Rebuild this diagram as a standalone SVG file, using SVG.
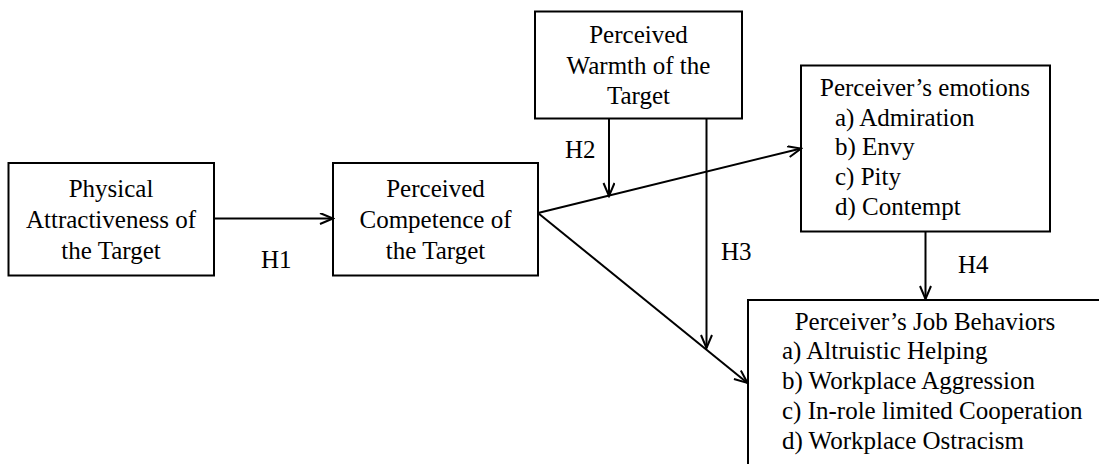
<svg xmlns="http://www.w3.org/2000/svg" width="1099" height="464" viewBox="0 0 1099 464">
  <style>
    .box { fill: #ffffff; stroke: #000000; stroke-width: 2; }
    .link { fill: none; stroke: #000000; stroke-width: 2; }
    text { font-family: "Liberation Serif", "Times New Roman", serif; font-size: 25px; fill: #000000; }
    .c { text-anchor: middle; }
  </style>
  <defs>
    <marker id="arrow" markerUnits="userSpaceOnUse" markerWidth="16" markerHeight="14" refX="14" refY="6" orient="auto">
      <path d="M1,0.5 L14,6 L1,11.5" fill="none" stroke="#000000" stroke-width="2"/>
    </marker>
  </defs>
  <rect width="1099" height="464" fill="#ffffff"/>

  <g id="physical-attractiveness">
    <rect class="box" x="8.5" y="163" width="205.5" height="112.5"/>
    <text class="c" x="111" y="197">Physical</text>
    <text class="c" x="111" y="228">Attractiveness of</text>
    <text class="c" x="111" y="259">the Target</text>
  </g>

  <g id="perceived-competence">
    <rect class="box" x="333" y="163" width="205" height="112.5"/>
    <text class="c" x="435.5" y="197">Perceived</text>
    <text class="c" x="435.5" y="228">Competence of</text>
    <text class="c" x="435.5" y="259">the Target</text>
  </g>

  <g id="perceived-warmth">
    <rect class="box" x="535" y="11.5" width="207" height="107"/>
    <text class="c" x="638.5" y="43">Perceived</text>
    <text class="c" x="638.5" y="74">Warmth of the</text>
    <text class="c" x="638.5" y="104">Target</text>
  </g>

  <g id="perceiver-emotions">
    <rect class="box" x="801" y="65.5" width="249" height="166"/>
    <text class="c" x="925" y="96">Perceiver’s emotions</text>
    <text x="835" y="126">a) Admiration</text>
    <text x="835" y="155">b) Envy</text>
    <text x="835" y="185">c) Pity</text>
    <text x="835" y="215">d) Contempt</text>
  </g>

  <g id="job-behaviors">
    <rect class="box" x="748" y="300" width="360" height="180"/>
    <text class="c" x="925" y="330">Perceiver’s Job Behaviors</text>
    <text x="782" y="359">a) Altruistic Helping</text>
    <text x="782" y="389">b) Workplace Aggression</text>
    <text x="782" y="419">c) In-role limited Cooperation</text>
    <text x="782" y="449">d) Workplace Ostracism</text>
  </g>

  <g id="connectors">
    <line class="link" x1="214" y1="218.5" x2="333" y2="218.5" marker-end="url(#arrow)"/>
    <line class="link" x1="538" y1="213" x2="801" y2="148.5" marker-end="url(#arrow)"/>
    <line class="link" x1="538" y1="213" x2="747.5" y2="383" marker-end="url(#arrow)"/>
    <line class="link" x1="609" y1="118.5" x2="609" y2="196" marker-end="url(#arrow)"/>
    <line class="link" x1="706.5" y1="118.5" x2="706.5" y2="348" marker-end="url(#arrow)"/>
    <line class="link" x1="925.5" y1="231.5" x2="925.5" y2="299" marker-end="url(#arrow)"/>
  </g>

  <g id="labels">
    <text x="261" y="268">H1</text>
    <text x="565" y="158">H2</text>
    <text x="721" y="260">H3</text>
    <text x="958" y="273">H4</text>
  </g>
</svg>
